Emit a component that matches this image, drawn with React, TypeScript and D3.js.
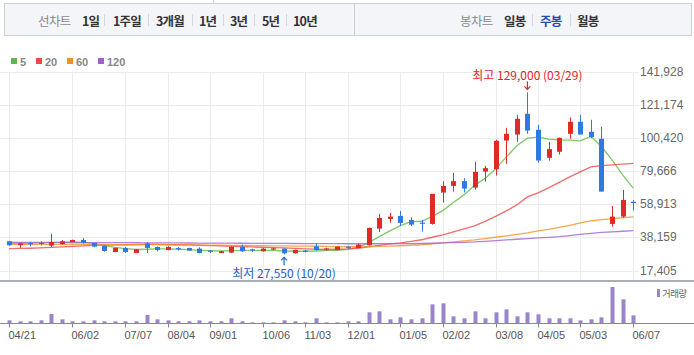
import React from "react";
import * as d3 from "d3";

const weeks = [
  "2019-04-21","2019-04-28","2019-05-05","2019-05-12","2019-05-19","2019-05-26","2019-06-02","2019-06-09","2019-06-16","2019-06-23",
  "2019-06-30","2019-07-07","2019-07-14","2019-07-21","2019-07-28","2019-08-04","2019-08-11","2019-08-18","2019-08-25","2019-09-01",
  "2019-09-08","2019-09-15","2019-09-22","2019-09-29","2019-10-06","2019-10-13","2019-10-20","2019-10-27","2019-11-03","2019-11-10",
  "2019-11-17","2019-11-24","2019-12-01","2019-12-08","2019-12-15","2019-12-22","2019-12-29","2020-01-05","2020-01-12","2020-01-19",
  "2020-01-26","2020-02-02","2020-02-09","2020-02-16","2020-02-23","2020-03-01","2020-03-08","2020-03-15","2020-03-22","2020-03-29",
  "2020-04-05","2020-04-12","2020-04-19","2020-04-26","2020-05-03","2020-05-10","2020-05-17","2020-05-24","2020-05-31","2020-06-07",
];

const opens = [
  35730, 33220, 34220, 34470, 33000, 34040, 35290, 36550, 34670, 32780,
  29020, 31530, 28390, 34470, 32150, 30270, 31110, 31530, 31110, 29500,
  28390, 28600, 32150, 30300, 29440, 30850, 31110, 28190, 29500, 32570,
  30800, 30270, 32000, 31530, 33220, 43640, 49730, 51610, 49100, 47100,
  46590, 66250, 70440, 73390, 69370, 79410, 80920, 98870, 102630, 115620,
  105580, 88010, 91800, 103070, 110600, 104330, 99940, 46590, 51170, 60200,
];
const highs = [
  35900, 34470, 35290, 35730, 40500, 36360, 36700, 37800, 34800, 32900,
  31700, 32150, 30900, 35290, 32500, 32600, 32150, 31700, 31950, 30270,
  29800, 32500, 33600, 31110, 31500, 31530, 31300, 30500, 30270, 34470,
  31700, 32700, 32780, 34220, 44280, 52860, 53490, 54750, 50790, 49100,
  65420, 73390, 78600, 75270, 85500, 82990, 99310, 106840, 115000, 129000,
  108720, 98050, 100700, 113300, 115000, 111860, 107470, 57890, 67930, 61650,
];
const lows = [
  33000, 31530, 32590, 33220, 32150, 33600, 35100, 34220, 32000, 29200,
  28900, 28390, 28300, 28390, 29390, 30100, 29860, 29700, 28200, 28390,
  28300, 28390, 29020, 29020, 29300, 30270, 27550, 28000, 28800, 29860,
  29860, 30000, 30900, 31300, 33000, 41570, 47400, 45330, 45330, 41750,
  46150, 59960, 66860, 66250, 68000, 73140, 76900, 84250, 98050, 103070,
  85060, 86320, 90080, 99940, 102630, 100370, 66860, 44890, 50540, 54930,
];
const closes = [
  33220, 34470, 34100, 34350, 35290, 35730, 36550, 34670, 32340, 29640,
  31530, 29020, 30710, 31530, 30270, 32150, 31000, 29860, 28390, 29430,
  29440, 32150, 29440, 30270, 31110, 30900, 28190, 30270, 29440, 30270,
  30900, 32340, 31950, 33600, 44080, 50350, 51170, 47220, 46150, 46980,
  65420, 70440, 73390, 68750, 79230, 81540, 98680, 103070, 112480, 105140,
  86320, 93470, 100560, 110600, 102630, 101000, 66860, 51170, 61650, 59960,
];
const volumes = [
  80, 50, 50, 80, 270, 110, 50, 50, 80, 50,
  50, 50, 50, 240, 110, 80, 50, 50, 80, 50,
  50, 140, 50, 20, 20, 20, 80, 50, 20, 140,
  20, 20, 50, 50, 320, 350, 110, 170, 110, 140,
  560, 590, 200, 140, 350, 140, 320, 410, 200, 320,
  260, 140, 140, 140, 80, 110, 170, 1080, 710, 230,
];
const ma5 = [
  34350, 34350, 34480, 34660, 34850, 34980, 35100, 34980, 34350, 33100,
  31840, 31090, 30580, 30710, 30900, 30900, 30710, 30460, 30080, 29830,
  29640, 29830, 30080, 30080, 29960, 29960, 29640, 29455, 29455, 29640,
  29960, 30080, 30580, 31970, 34850, 38620, 42200, 45520, 48030, 48280,
  51170, 54940, 59960, 64790, 70750, 75140, 81110, 88450, 95540, 100370,
  101000, 99750, 99310, 99120, 98680, 101380, 95100, 86750, 77340, 68990,
];
const ma20 = [
  31090, 31210, 31340, 31530, 31840, 32150, 32470, 32780, 33100, 33280,
  33410, 33530, 33660, 33720, 33720, 33660, 33530, 33410, 33220, 32970,
  32780, 32590, 32400, 32150, 31970, 31710, 31530, 31280, 31020, 30770,
  30580, 30710, 30900, 31340, 32150, 33100, 34040, 34660, 35610, 36670,
  38240, 39690, 41570, 43450, 45330, 48160, 51300, 54750, 58510, 63530,
  66040, 69180, 72630, 76090, 79220, 82360, 83180, 83620, 84060, 84560,
];
const ma60 = [
  33850, 33830, 33810, 33790, 33760, 33740, 33720, 33700, 33680, 33660,
  33640, 33620, 33600, 33580, 33560, 33530, 33480, 33420, 33350, 33290,
  33220, 33160, 33100, 33040, 32970, 32900, 32810, 32720, 32650, 32590,
  32470, 32340, 32280, 32280, 32340, 32470, 32660, 32910, 33220, 33530,
  34040, 34660, 35290, 35920, 36550, 37360, 38240, 39060, 40000, 40940,
  42200, 43140, 44390, 45650, 47220, 48470, 49290, 49920, 50480, 50980,
];
const ma120 = [
  35100, 35080, 35050, 35020, 35000, 34980, 34950, 34920, 34900, 34870,
  34850, 34820, 34790, 34760, 34730, 34700, 34670, 34640, 34600, 34570,
  34540, 34510, 34480, 34450, 34420, 34390, 34360, 34330, 34300, 34260,
  34220, 34200, 34180, 34170, 34160, 34160, 34170, 34190, 34220, 34340,
  34480, 34660, 34850, 35060, 35290, 35700, 36110, 36550, 36990, 37400,
  37800, 38200, 38620, 39300, 40000, 40630, 41250, 41570, 42010, 42380,
];

const priceTicks = [17405, 38159, 58913, 79666, 100420, 121174, 141928];
const dateTicks = [
  "2019-04-21", "2019-06-02", "2019-07-07", "2019-08-04", "2019-09-01", "2019-10-06", "2019-11-03",
  "2019-12-01", "2020-01-05", "2020-02-02", "2020-03-08", "2020-04-05", "2020-05-03", "2020-06-07",
];
const maLegend = ["5", "20", "60", "120"];
const maColors = ["#5cbb45", "#ef4747", "#f59122", "#a05fd2"];
const lineChart = ["1일", "1주일", "3개월", "1년", "3년", "5년", "10년"];
const candleChart = ["일봉", "주봉", "월봉"];
const highInfo = { label: "최고 129,000 (03/29)", week: "2020-03-29", value: 129000 };
const lowInfo = { label: "최저 27,550 (10/20)", week: "2019-10-20", value: 27550 };

const UP = "#e02a24";
const DOWN = "#2f7ae2";
const KFONT = "'Noto Sans CJK KR', 'Noto Sans', sans-serif";
const NFONT = "'Liberation Sans', Arial, sans-serif";

export default function App() {
  const x = d3.scalePoint<string>().domain(weeks).range([9, 633.2]);
  const y = d3.scaleLinear().domain([17405, 141928]).range([270.5, 71.8]);
  const yv = d3.scaleLinear().domain([0, 1200]).range([323, 283]);
  const mas = [ma5, ma20, ma60, ma120];
  const line = d3
    .line<number>()
    .x((_, i) => x(weeks[i]) as number)
    .y((d) => y(d));

  const lcPos = [82, 113, 156, 199, 230, 262, 293];
  const lcSep = [104.5, 148.5, 192.5, 223.5, 254.5, 286.5];
  const ccPos = [504, 540, 577];
  const ccSep = [532.5, 570.5];

  const hx = x(highInfo.week) as number;
  const hy = y(highInfo.value);
  const lx = x(lowInfo.week) as number;
  const ly = y(lowInfo.value);

  return (
    <div style={{ position: "fixed", left: 0, top: 0 }}>
      <svg width={694} height={355} style={{ display: "block", background: "#fff" }}>
        {/* toolbar */}
        <line x1={213.5} x2={213.5} y1={0} y2={3.5} stroke="#c9ccd1" />
        <rect x={4.5} y={3.5} width={687} height={32} fill="#f4f5f8" stroke="#cdd0d5" />
        <line x1={354.5} x2={354.5} y1={3.5} y2={35.5} stroke="#cdd0d5" />
        <text x={38} y={20} dominantBaseline="central" fontFamily={KFONT} fontSize={12.5} fill="#8a8a8a" letterSpacing={-0.6}>
          선차트
        </text>
        {lineChart.map((t, i) => (
          <text key={t} x={lcPos[i]} y={20} dominantBaseline="central" fontFamily={KFONT} fontSize={12.5} fontWeight="bold" fill="#333" letterSpacing={-0.8}>
            {t}
          </text>
        ))}
        {lcSep.map((s) => (
          <line key={s} x1={s} x2={s} y1={14} y2={26} stroke="#d5d7db" />
        ))}
        <text x={460} y={20} dominantBaseline="central" fontFamily={KFONT} fontSize={12.5} fill="#8a8a8a" letterSpacing={-0.6}>
          봉차트
        </text>
        {candleChart.map((t, i) => (
          <text key={t} x={ccPos[i]} y={20} dominantBaseline="central" fontFamily={KFONT} fontSize={12.5} fontWeight="bold" fill={i === 1 ? "#1f4fae" : "#333"} letterSpacing={-0.8}>
            {t}
          </text>
        ))}
        {ccSep.map((s) => (
          <line key={s} x1={s} x2={s} y1={14} y2={26} stroke="#d5d7db" />
        ))}

        {/* legend */}
        {maLegend.map((t, i) => {
          const lx0 = [11, 36, 67, 98][i];
          return (
            <g key={t}>
              <rect x={lx0} y={58} width={6} height={6} fill={maColors[i]} />
              <text x={lx0 + 9} y={61.5} dominantBaseline="central" fontFamily={NFONT} fontSize={11} fontWeight="bold" fill="#888">
                {t}
              </text>
            </g>
          );
        })}

        {/* grid */}
        {priceTicks.map((p) => (
          <line key={p} x1={0} x2={639} y1={Math.round(y(p)) + 0.5} y2={Math.round(y(p)) + 0.5} stroke="#ebebeb" />
        ))}
        {dateTicks.map((d) => {
          const xx = Math.round(x(d) as number) + 0.5;
          return <line key={d} x1={xx} x2={xx} y1={71.5} y2={280} stroke="#ebebeb" />;
        })}
        {priceTicks.map((p) => (
          <text key={p} x={640} y={y(p)} dominantBaseline="central" fontFamily={NFONT} fontSize={12} fill="#666">
            {d3.format(",")(p)}
          </text>
        ))}

        {/* moving averages */}
        {mas.map((m, i) => (
          <path key={i} d={line(m) || ""} fill="none" stroke={maColors[i]} strokeWidth={1.3} strokeOpacity={0.8} />
        ))}

        {/* candles */}
        {weeks.map((w, i) => {
          const cx = Math.round(x(w) as number) + 0.5;
          const up = closes[i] >= opens[i];
          const col = up ? UP : DOWN;
          const top = y(Math.max(opens[i], closes[i]));
          const bot = y(Math.min(opens[i], closes[i]));
          const h = Math.max(1.2, bot - top);
          return (
            <g key={w}>
              <line x1={cx} x2={cx} y1={y(highs[i])} y2={y(lows[i])} stroke={col} strokeWidth={1} />
              <rect x={cx - 2.5} y={h === 1.2 ? (top + bot) / 2 - 0.6 : top} width={5} height={h} fill={col} />
            </g>
          );
        })}

        {/* annotations */}
        <text x={hx} y={hy - 18} textAnchor="middle" dominantBaseline="central" fontFamily={KFONT} fontSize={12} fill="#e4231d">
          {highInfo.label}
        </text>
        <line x1={hx} x2={hx} y1={hy - 11} y2={hy - 3} stroke="#e4231d" strokeWidth={1.2} />
        <path d={`M${hx - 3},${hy - 6} L${hx},${hy - 3} L${hx + 3},${hy - 6}`} fill="none" stroke="#e4231d" strokeWidth={1.2} />
        <text x={lx} y={ly + 18.5} textAnchor="middle" dominantBaseline="central" fontFamily={KFONT} fontSize={12} fill="#2560c8">
          {lowInfo.label}
        </text>
        <line x1={lx} x2={lx} y1={ly + 3} y2={ly + 11} stroke="#2560c8" strokeWidth={1.2} />
        <path d={`M${lx - 3},${ly + 6} L${lx},${ly + 3} L${lx + 3},${ly + 6}`} fill="none" stroke="#2560c8" strokeWidth={1.2} />

        {/* volume panel */}
        <line x1={0} x2={694} y1={281} y2={281} stroke="#8f959c" strokeWidth={1.5} />
        {weeks.map((w, i) => {
          const cx = x(w) as number;
          return <rect key={w} x={Math.round(cx) - 1.5} y={yv(volumes[i])} width={4} height={yv(0) - yv(volumes[i])} fill="#9b84c9" />;
        })}
        <line x1={0} x2={694} y1={323.5} y2={323.5} stroke="#8a8a8a" />
        {dateTicks.map((d) => {
          const xx = Math.round(x(d) as number) + 0.5;
          return (
            <g key={d}>
              <line x1={xx} x2={xx} y1={323.5} y2={327.5} stroke="#8a8a8a" />
              <text x={xx - 1} y={335} dominantBaseline="central" fontFamily={NFONT} fontSize={11} fill="#555">
                {d.slice(5).replace("-", "/")}
              </text>
            </g>
          );
        })}
        <rect x={657} y={289} width={3} height={8} fill="#9b84c9" />
        <text x={662} y={293} dominantBaseline="central" fontFamily={KFONT} fontSize={9.5} fill="#666" letterSpacing={-0.6}>
          거래량
        </text>
      </svg>
    </div>
  );
}
